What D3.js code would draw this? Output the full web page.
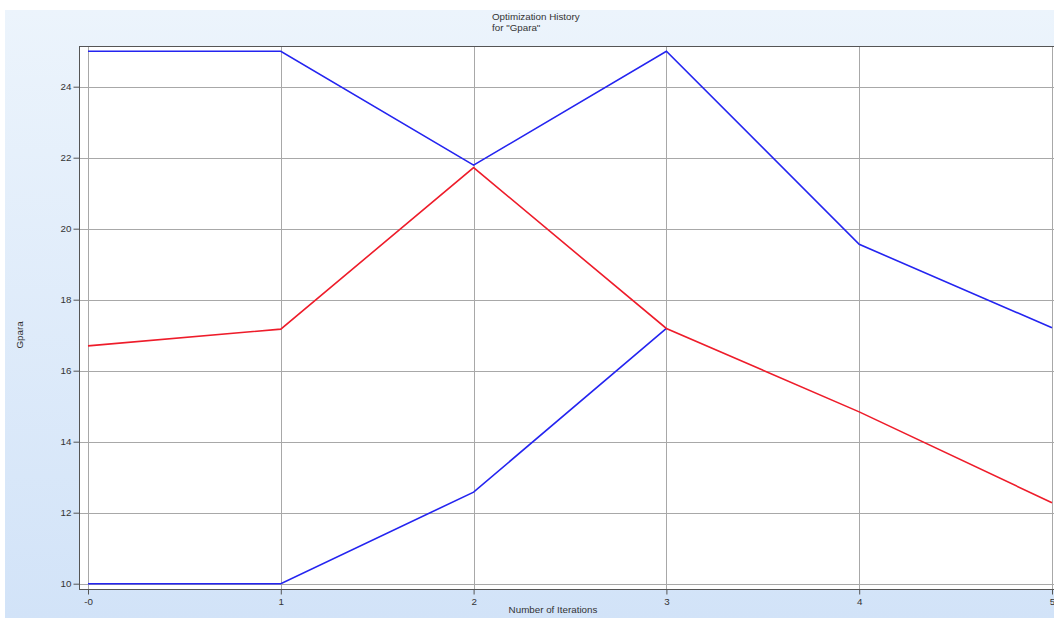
<!DOCTYPE html>
<html>
<head>
<meta charset="utf-8">
<script src="https://cdn.jsdelivr.net/npm/d3@7"></script>
<style>
  body { margin: 0; background: #fff; }
  svg { display: block; font-family: "Liberation Sans", Arial, sans-serif; }
</style>
</head>
<body>
<div class="graph"></div>
<script>
// data
var iterations = [0, 1, 2, 3, 4, 5];
var upperBound = [25, 25, 21.79, 25, 19.56, 17.21];
var lowerBound = [10, 10, 12.58, 17.19];
var gparaValue = [16.7, 17.17, 21.72, 17.19, 14.84, 12.28];
var yTicks = [10, 12, 14, 16, 18, 20, 22, 24];
var xTickLabels = ["-0", "1", "2", "3", "4", "5"];

var width = 1054, height = 619;
var margin = {top: 46, left: 79, bottom: 589};
var fontSize = "9.8px";

var svg = d3.select("div.graph").append("svg")
    .attr("width", width)
    .attr("height", height);

// background panel gradient
var grad = svg.append("defs").append("linearGradient")
    .attr("id", "bg").attr("x1", 0).attr("y1", 0).attr("x2", 0).attr("y2", 1);
grad.append("stop").attr("offset", "0%").attr("stop-color", "#ecf4fc");
grad.append("stop").attr("offset", "100%").attr("stop-color", "#d2e3f8");

svg.append("rect")
    .attr("x", 5).attr("y", 10)
    .attr("width", width - 5).attr("height", height - 11)
    .attr("fill", "url(#bg)");

// scales
var x = d3.scaleLinear().domain([0, 5]).range([88, 1052]);
var y = d3.scaleLinear().domain([10, 24]).range([583.7, 86.7]);

var plotLeft = margin.left, plotRight = x(5) + 9;

svg.append("rect")
    .attr("x", plotLeft).attr("y", margin.top)
    .attr("width", plotRight - plotLeft).attr("height", margin.bottom - margin.top)
    .attr("fill", "#fff");

// grid
svg.append("g").selectAll("line").data(yTicks).enter().append("line")
    .attr("x1", plotLeft).attr("x2", plotRight)
    .attr("y1", function(d) { return Math.round(y(d)) + 0.5; })
    .attr("y2", function(d) { return Math.round(y(d)) + 0.5; })
    .attr("stroke", "#a8a8a8").attr("stroke-width", 1);

svg.append("g").selectAll("line").data(iterations).enter().append("line")
    .attr("y1", margin.top).attr("y2", margin.bottom)
    .attr("x1", function(d) { return Math.round(x(d)) + 0.5; })
    .attr("x2", function(d) { return Math.round(x(d)) + 0.5; })
    .attr("stroke", "#a8a8a8").attr("stroke-width", 1);

// axes
var yAxis = svg.append("g")
    .attr("transform", "translate(" + (plotLeft + 0.5) + ",0)")
    .call(d3.axisLeft(y).tickValues(yTicks).tickSize(6).tickPadding(2).tickSizeOuter(0));
var xAxis = svg.append("g")
    .attr("transform", "translate(0," + (margin.bottom + 0.5) + ")")
    .call(d3.axisBottom(x).tickValues(iterations).tickSize(5).tickPadding(4).tickSizeOuter(0)
      .tickFormat(function(d, i) { return xTickLabels[i]; }));

[yAxis, xAxis].forEach(function(a) {
  a.select(".domain").remove();
  a.selectAll("line").attr("stroke", "#555");
  a.selectAll("text").attr("fill", "#333").style("font-size", fontSize)
    .style("font-family", "'Liberation Sans', Arial, sans-serif");
});

// frame lines (left, top, bottom)
svg.append("line").attr("x1", plotLeft + 0.5).attr("x2", plotLeft + 0.5)
    .attr("y1", margin.top).attr("y2", margin.bottom + 1).attr("stroke", "#555");
svg.append("line").attr("x1", plotLeft).attr("x2", plotRight)
    .attr("y1", margin.top + 0.5).attr("y2", margin.top + 0.5).attr("stroke", "#555");
svg.append("line").attr("x1", plotLeft).attr("x2", plotRight)
    .attr("y1", margin.bottom + 0.5).attr("y2", margin.bottom + 0.5).attr("stroke", "#555");

// series
var line = d3.line()
    .x(function(d, i) { return x(iterations[i]); })
    .y(function(d) { return y(d); });

svg.append("path").datum(upperBound).attr("d", line)
    .attr("fill", "none").attr("stroke", "#2424f0").attr("stroke-width", 1.6);
svg.append("path").datum(lowerBound).attr("d", line)
    .attr("fill", "none").attr("stroke", "#2424f0").attr("stroke-width", 1.6);
svg.append("path").datum(gparaValue).attr("d", line)
    .attr("fill", "none").attr("stroke", "#ee1c2a").attr("stroke-width", 1.6);

// labels
var title = svg.append("text")
    .attr("x", 492).attr("y", 20)
    .attr("fill", "#333").style("font-size", fontSize);
title.append("tspan").attr("x", 492).text("Optimization History");
title.append("tspan").attr("x", 492).attr("dy", 11).text("for \"Gpara\"");

svg.append("text")
    .attr("transform", "translate(23,335) rotate(-90)")
    .attr("text-anchor", "middle")
    .attr("fill", "#333").style("font-size", fontSize)
    .text("Gpara");

svg.append("text")
    .attr("x", 553).attr("y", 613)
    .attr("text-anchor", "middle")
    .attr("fill", "#333").style("font-size", fontSize)
    .text("Number of Iterations");
</script>
</body>
</html>
